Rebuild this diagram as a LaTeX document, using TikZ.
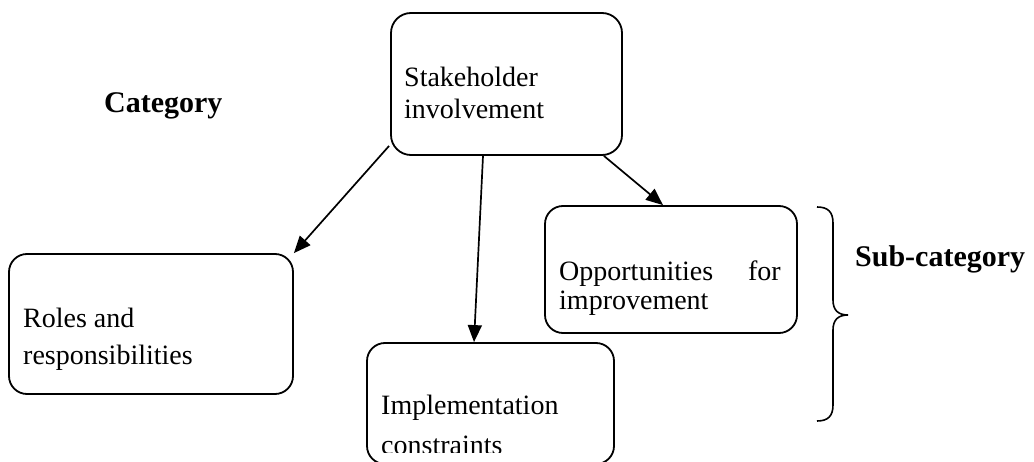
\documentclass[tikz,border=0pt]{standalone}
\usepackage{fontspec}
\setmainfont{Liberation Serif}
\usetikzlibrary{arrows.meta}
\begin{document}
\begin{tikzpicture}[x=1pt,y=-1pt,
  box/.style={draw,line width=1.8pt,rounded corners=18pt,inner sep=0pt},
  lbl/.style={anchor=base west,inner sep=0pt,font=\fontsize{28}{32}\selectfont},
  head/.style={anchor=base west,inner sep=0pt,font=\fontsize{30}{34}\selectfont\bfseries},
  conn/.style={line width=1.7pt,-{Triangle[length=17pt,width=14pt]}},
  bracestyle/.style={line width=1.6pt}]
\useasboundingbox (0,0) rectangle (1034,462);
\clip (0,0) rectangle (1034,462);
% boxes
\node[box, minimum width=231pt, minimum height=142pt, rounded corners=20pt] (sh) at (506.5,84) {};
\node[box, minimum width=284pt, minimum height=140pt] (roles) at (151,324) {};
\node[box, minimum width=247pt, minimum height=121pt] (impl) at (490.5,403.5) {};
\node[box, minimum width=252pt, minimum height=127pt] (opp) at (671,269.5) {};
% texts
\node[lbl] (shA) at (404,87) {Stakeholder};
\node[lbl] (shB) at (404,119) {involvement};
\node[lbl] (roA) at (23,328) {Roles and};
\node[lbl] (roB) at (23,365) {responsibilities};
\node[lbl] (imA) at (381,414) {Implementation};
\begin{scope}
\clip (367,300) rectangle (614,452);
\node[lbl] (imB) at (381,454) {constraints};
\end{scope}
\node[lbl] (opA) at (559,281) {Opportunities};
\node[lbl,anchor=base east] (opB) at (781,281) {for};
\node[lbl] (opC) at (559,310) {improvement};
\node[head] (cat) at (104,113) {Category};
\node[head] (sub) at (855,267) {Sub-category};
% connectors
\draw[conn] ([xshift=-1pt,yshift=10pt]sh.south west) -- (roles.north east);
\draw[conn] ([xshift=-23.5pt]sh.south) -- ([xshift=-16.5pt]impl.north);
\draw[conn] ([xshift=-19pt]sh.south east) -- ([xshift=-8pt]opp.north);
% brace
\coordinate (bt) at (817,207);
\coordinate (bb) at (817,421);
\coordinate (btip) at (848,315);
\draw[bracestyle] (bt) .. controls (828,207) and (833,212) .. (833,223) -- (833,300)
  .. controls (833,310) and (838,315) .. (btip)
  .. controls (838,315) and (833,320) .. (833,330) -- (833,405)
  .. controls (833,416) and (828,421) .. (bb);
\end{tikzpicture}
\end{document}
